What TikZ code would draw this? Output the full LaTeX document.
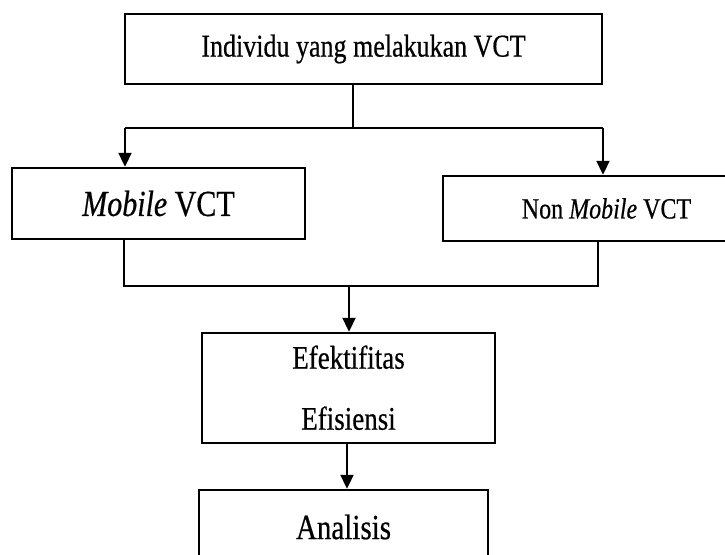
\documentclass[tikz,border=0pt]{standalone}
\usepackage{fontspec}
\usepackage{graphicx}
\setmainfont[FakeBold=0.6]{Liberation Serif}
\usetikzlibrary{arrows.meta,calc}
\newcommand\talltext[1]{\scalebox{1}[1.22]{#1}}
\begin{document}
\begin{tikzpicture}[x=1pt,y=-1pt,
  box/.style={draw, line width=2.4pt, inner sep=0pt, align=center},
  conn/.style={line width=2pt},
  arr/.style={conn, -{Triangle[width=13pt,length=14pt]}}]
\useasboundingbox (0,0) rectangle (725,554);
\clip (0,0) rectangle (725,554);
\node[box, minimum width=477pt, minimum height=70pt, font=\fontsize{26}{30}\selectfont] (top) at (363.5,49) {\talltext{Individu yang melakukan VCT}};
\node[box, minimum width=293pt, minimum height=71pt, font=\fontsize{30}{34}\selectfont] (left) at (158.5,203.5) {\talltext{\textit{Mobile} VCT}};
\node[box, minimum width=327pt, minimum height=65pt, font=\fontsize{24}{28}\selectfont] (right) at (606.5,208.5) {\talltext{Non \textit{Mobile} VCT}};
\node[box, minimum width=293pt, minimum height=110pt, font=\fontsize{27}{57}\selectfont] (mid) at (348.5,388) {\raisebox{-6pt}[0pt][0pt]{\begin{tabular}{@{}c@{}}\talltext{Efektifitas}\\[4pt]\talltext{Efisiensi}\end{tabular}}};
\node[box, minimum width=289pt, minimum height=74pt, font=\fontsize{29}{33}\selectfont] (ana) at (343.5,527) {\talltext{Analisis}};
\coordinate (j1) at (353,128);
\coordinate (a1) at (125,128);
\coordinate (a2) at (603,128);
\coordinate (b1) at (124,286);
\coordinate (b2) at (598,286);
\coordinate (bm) at (349,286);
\coordinate (c1) at (347,443);
\draw[conn] (top.south -| j1) -- (j1);
\draw[conn] (a1) -- (a2);
\draw[arr] (a1) -- (a1 |- left.north);
\draw[arr] (a2) -- (a2 |- right.north);
\draw[conn] (left.south -| b1) -- (b1) -- (b2) -- (right.south -| b2);
\draw[arr] (bm) -- (bm |- mid.north);
\draw[arr] (mid.south -| c1) -- (c1 |- ana.north);
\end{tikzpicture}
\end{document}
